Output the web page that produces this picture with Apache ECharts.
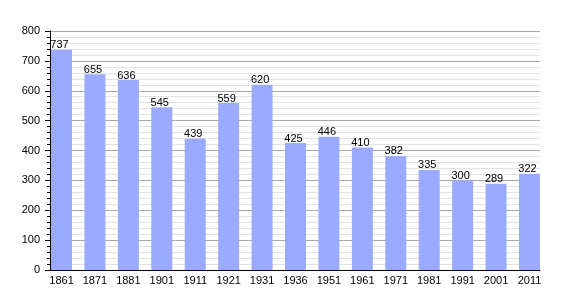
<!DOCTYPE html>
<html>
<head>
<meta charset="utf-8">
<script src="https://cdn.jsdelivr.net/npm/echarts@6/dist/echarts.min.js"></script>
<style>
  html, body { margin: 0; padding: 0; background: #ffffff; }
  #chart { width: 570px; height: 300px; }
</style>
</head>
<body>
<div id="chart"></div>
<script>
var years = ['1861', '1871', '1881', '1901', '1911', '1921', '1931', '1936', '1951', '1961', '1971', '1981', '1991', '2001', '2011']
var population = [737, 655, 636, 545, 439, 559, 620, 425, 446, 410, 382, 335, 300, 289, 322]
var yTicks = [0, 100, 200, 300, 400, 500, 600, 700, 800]

var myChart = echarts.init(document.getElementById('chart'), null, { renderer: 'canvas' })

var font = 'Liberation Sans, Arial, sans-serif'

var option = {
  backgroundColor: '#ffffff',
  animation: false,
  grid: [
    // grid 0: axis frame, y scale and gridlines
    { left: 50, right: 30, top: 31, bottom: 30 },
    // grid 1: bars, slightly wider so the outer bars touch the frame
    { left: 44.8, right: 23.8, top: 31, bottom: 30 }
  ],
  xAxis: [
    {
      gridIndex: 0,
      type: 'value',
      min: 0,
      max: 1,
      axisLine: { show: true, onZero: false, lineStyle: { color: '#000000', width: 1 } },
      axisTick: { show: false },
      axisLabel: { show: false },
      splitLine: { show: false }
    },
    {
      gridIndex: 1,
      type: 'category',
      data: years,
      axisLine: { show: false },
      axisTick: { show: false },
      axisLabel: { color: '#000000', fontSize: 11, fontFamily: font, margin: 5 },
      splitLine: { show: false }
    }
  ],
  yAxis: [
    {
      gridIndex: 0,
      type: 'value',
      min: yTicks[0],
      max: yTicks[yTicks.length - 1],
      interval: 100,
      axisLine: { show: true, lineStyle: { color: '#000000', width: 1 } },
      axisTick: { show: true, length: 5, lineStyle: { color: '#000000' } },
      minorTick: { show: true, splitNumber: 5, length: 3, lineStyle: { color: '#000000' } },
      axisLabel: { color: '#000000', fontSize: 11, fontFamily: font, margin: 10 },
      splitLine: { show: true, lineStyle: { color: '#a8a8a8', width: 1 } },
      minorSplitLine: { show: true, lineStyle: { color: '#e2e2e2', width: 1 } }
    },
    {
      gridIndex: 1,
      type: 'value',
      min: yTicks[0],
      max: yTicks[yTicks.length - 1],
      show: false,
      splitLine: { show: false }
    }
  ],
  series: [
    {
      type: 'bar',
      xAxisIndex: 1,
      yAxisIndex: 1,
      data: population,
      barWidth: 21,
      itemStyle: { color: '#99aaff' },
      label: {
        show: true,
        position: 'top',
        distance: 0,
        offset: [-2, 1],
        color: '#000000',
        fontSize: 11,
        fontFamily: font
      }
    }
  ]
}

myChart.setOption(option, true)
window.addEventListener('resize', () => {
  myChart.resize()
})
</script>
</body>
</html>
